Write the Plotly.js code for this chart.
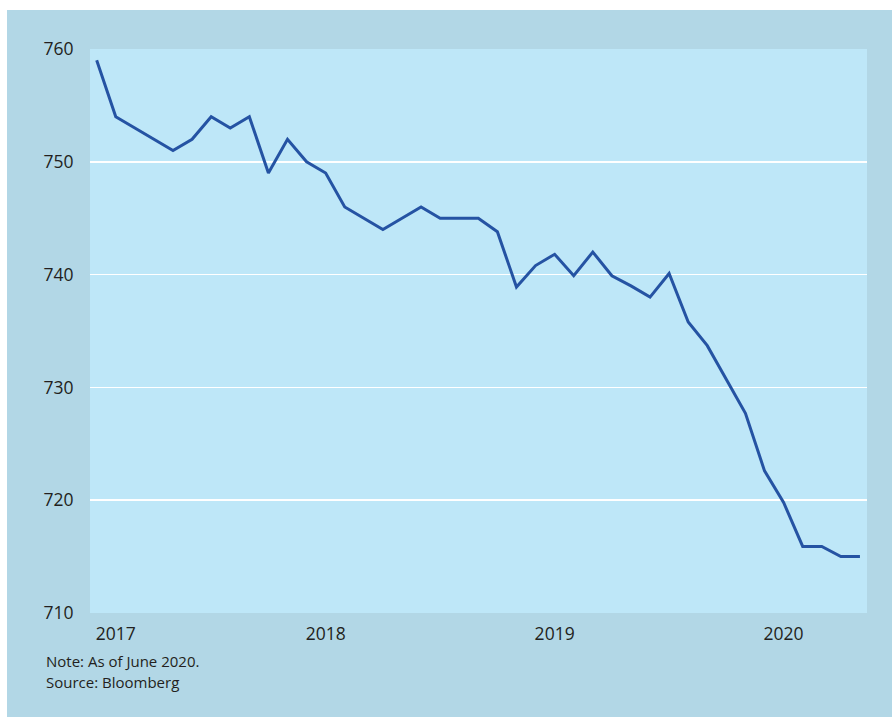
<!DOCTYPE html>
<html>
<head>
<meta charset="utf-8">
<script src="https://cdn.plot.ly/plotly-3.0.1.min.js"></script>
<style>
  html, body { margin: 0; padding: 0; background: #ffffff; width: 892px; height: 717px; overflow: hidden; }
  #chart { position: absolute; left: 7px; top: 10px; width: 885px; height: 707px; }
</style>
</head>
<body>
<div id="chart"></div>
<script>
// Monthly observations (index 0 = first month shown)
const monthIndex = [0,1,2,3,4,5,6,7,8,9,10,11,12,13,14,15,16,17,18,19,20,
  21,22,23,24,25,26,27,28,29,30,31,32,33,34,35,36,37,38,39,40];
const values = [759,754,753,752,751,752,754,753,754,749,752,750,749,746,745,744,745,746,745,745,745,
  743.8,738.9,740.8,741.8,739.9,742,739.9,739,738,740.1,735.8,733.7,730.7,727.7,722.6,719.8,715.9,715.9,715,715];
const yearTickPos = [1, 12, 24, 36];
const yearTickText = ['2017', '2018', '2019', '2020'];
const yTicks = [710, 720, 730, 740, 750, 760];
const notes = ['Note: As of June 2020.', 'Source: Bloomberg'];

const textColor = '#231f20';
const font = 'Open Sans, Noto Sans, sans-serif';

const trace = {
  x: monthIndex,
  y: values,
  type: 'scatter',
  mode: 'lines',
  line: { color: '#2553a3', width: 3 },
  hoverinfo: 'skip'
};

const layout = {
  width: 885,
  height: 707,
  margin: { l: 83, r: 25, t: 39, b: 104 },
  paper_bgcolor: '#b2d7e6',
  plot_bgcolor: '#bee7f8',
  showlegend: false,
  font: { family: font, color: textColor, size: 17 },
  xaxis: {
    type: 'linear',
    range: [-0.35, 40.37],
    tickmode: 'array',
    tickvals: yearTickPos,
    ticktext: yearTickText,
    showgrid: false,
    zeroline: false,
    showline: false,
    ticks: 'outside',
    ticklen: 5,
    tickcolor: 'rgba(0,0,0,0)',
    tickfont: { family: font, size: 17.5, color: textColor },
    fixedrange: true
  },
  yaxis: {
    range: [710, 760],
    tickmode: 'array',
    tickvals: yTicks,
    ticktext: yTicks.map(String),
    showgrid: true,
    gridcolor: '#ffffff',
    gridwidth: 1.6,
    zeroline: false,
    showline: false,
    ticks: 'outside',
    ticklen: 12,
    tickcolor: 'rgba(0,0,0,0)',
    tickfont: { family: font, size: 17.5, color: textColor },
    fixedrange: true
  },
  annotations: notes.map((t, i) => ({
    text: t,
    xref: 'paper', yref: 'paper',
    x: (-83 + 37) / 777, y: 0,
    xanchor: 'left', yanchor: 'middle',
    yshift: -(651 - 603) - i * 21,
    showarrow: false,
    font: { family: font, size: 15, color: textColor }
  }))
};

Plotly.newPlot('chart', [trace], layout, { displayModeBar: false, staticPlot: true });
</script>
</body>
</html>
